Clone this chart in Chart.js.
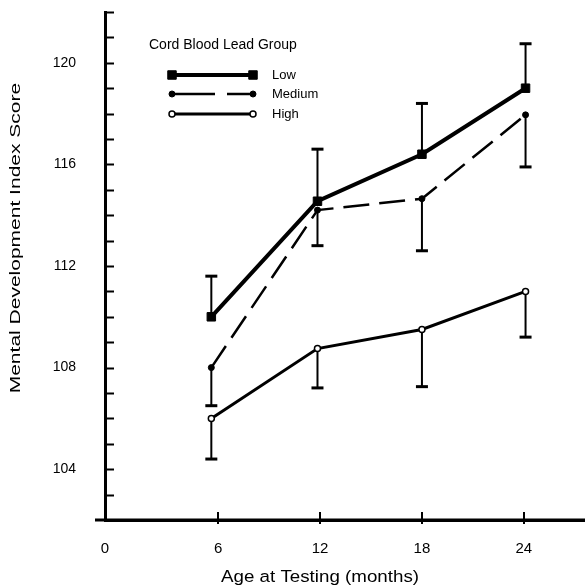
<!DOCTYPE html>
<html>
<head>
<meta charset="utf-8">
<script src="https://cdn.jsdelivr.net/npm/chart.js@4/dist/chart.umd.min.js"></script>
<style>
  html, body { margin: 0; padding: 0; background: #fff; }
  #wrap { width: 585px; height: 588px; }
</style>
</head>
<body>
<div id="wrap"><canvas id="mainChart" width="585" height="588"></canvas></div>
<script>
// Values
const ages = [5.6, 11.85, 18, 24.1];
const lowScores = [110.0, 114.55, 116.4, 119.0];
const mediumScores = [108.0, 114.2, 114.65, 117.95];
const highScores = [106.0, 108.75, 109.5, 111.0];
// error bar ends (low goes up, medium / high go down)
const lowUpper = [111.6, 116.6, 118.4, 120.75];
const mediumLower = [106.5, 112.8, 112.6, 115.9];
const highLower = [104.4, 107.2, 107.25, 109.2];
const xTickValues = [6, 12, 18, 24];
const groupLabels = ["Low", "Medium", "High"];

const FONT = "'Liberation Sans', Arial, Helvetica, sans-serif";
const X_MIN = -0.66;

function points(ys) {
    return ages.map((a, i) => ({ x: a, y: ys[i] }));
}

// error bars, axis ticks pointing inward, titles and legend
const extrasPlugin = {
    id: "extras",
    beforeDatasetsDraw(chart) {
        const ctx = chart.ctx;
        const xs = chart.scales.x, ys = chart.scales.y;
        ctx.save();
        ctx.strokeStyle = "#000";
        chart.data.datasets.forEach(ds => {
            ds.data.forEach((p, i) => {
                const px = xs.getPixelForValue(p.x);
                const y1 = ys.getPixelForValue(p.y);
                const y2 = ys.getPixelForValue(ds.errorTo[i]);
                ctx.lineWidth = 2;
                ctx.beginPath(); ctx.moveTo(px, y1); ctx.lineTo(px, y2); ctx.stroke();
                ctx.lineWidth = 3;
                ctx.beginPath(); ctx.moveTo(px - 6, y2); ctx.lineTo(px + 6, y2); ctx.stroke();
            });
        });
        ctx.restore();
    },
    afterDraw(chart) {
        const ctx = chart.ctx;
        const xs = chart.scales.x, ys = chart.scales.y;
        const area = chart.chartArea;
        ctx.save();
        ctx.strokeStyle = "#000";
        ctx.fillStyle = "#000";

        // y ticks (inside)
        ctx.lineWidth = 2;
        ys.ticks.forEach(t => {
            const py = Math.round(ys.getPixelForValue(t.value)) + 0.5;
            ctx.beginPath(); ctx.moveTo(area.left, py); ctx.lineTo(area.left + 9, py); ctx.stroke();
        });
        // x ticks, crossing the axis
        xs.ticks.forEach((t, i) => {
            if (i === 0) return;
            const px = Math.round(xs.getPixelForValue(t.value));
            ctx.beginPath(); ctx.moveTo(px, area.bottom - 8); ctx.lineTo(px, area.bottom + 4); ctx.stroke();
        });
        // x axis runs a little past the y axis on the left, and to the edge on the right
        ctx.lineWidth = 3;
        ctx.beginPath(); ctx.moveTo(area.left - 10, area.bottom); ctx.lineTo(chart.width, area.bottom); ctx.stroke();

        // axis titles (the scan is stretched, so stretch the text too)
        ctx.textAlign = "center";
        ctx.textBaseline = "middle";
        ctx.font = "15px " + FONT;
        ctx.save();
        ctx.translate(xs.getPixelForValue(12), 578);
        ctx.scale(1.25, 1.05);
        ctx.fillText("Age at Testing (months)", 0, 0);
        ctx.restore();

        ctx.font = "14px " + FONT;
        ctx.save();
        ctx.translate(16, ys.getPixelForValue(113.1));
        ctx.rotate(-Math.PI / 2);
        ctx.scale(1.5, 1);
        ctx.fillText("Mental Development Index Score", 0, 0);
        ctx.restore();

        // legend
        ctx.textAlign = "left";
        ctx.font = "14px " + FONT;
        ctx.fillText("Cord Blood Lead Group", 149, 45);
        ctx.font = "13px " + FONT;
        const rows = [75, 94, 114];
        chart.data.datasets.forEach((ds, i) => {
            const y = rows[i];
            ctx.lineWidth = ds.borderWidth;
            ctx.setLineDash(ds.legendDash || []);
            ctx.beginPath(); ctx.moveTo(172, y); ctx.lineTo(253, y); ctx.stroke();
            ctx.setLineDash([]);
            [172, 253].forEach(mx => drawMarker(ctx, ds, mx, y));
            ctx.fillStyle = "#000";
            ctx.fillText(ds.label, 272, y);
        });
        ctx.restore();
    }
};

function drawMarker(ctx, ds, x, y) {
    ctx.save();
    ctx.fillStyle = ds.pointBackgroundColor;
    ctx.strokeStyle = "#000";
    ctx.lineWidth = ds.pointBorderWidth;
    const r = ds.pointRadius;
    ctx.beginPath();
    if (ds.pointStyle === "rect") {
        const s = r * Math.SQRT1_2;
        ctx.rect(x - s, y - s, 2 * s, 2 * s);
    } else {
        ctx.arc(x, y, r, 0, Math.PI * 2);
    }
    ctx.fill();
    ctx.stroke();
    ctx.restore();
}

document.addEventListener("DOMContentLoaded", () => {
    const ctx = document.getElementById("mainChart").getContext("2d");

    new Chart(ctx, {
        type: "line",
        data: {
            datasets: [
                {
                    label: groupLabels[0],
                    data: points(lowScores),
                    errorTo: lowUpper,
                    borderColor: "#000",
                    borderWidth: 4,
                    pointStyle: "rect",
                    pointRadius: 6,
                    pointBackgroundColor: "#000",
                    pointBorderColor: "#000",
                    pointBorderWidth: 1
                },
                {
                    label: groupLabels[1],
                    data: points(mediumScores),
                    errorTo: mediumLower,
                    borderColor: "#000",
                    borderWidth: 2.5,
                    borderDash: [26, 10],
                    legendDash: [43, 12],
                    pointStyle: "circle",
                    pointRadius: 3,
                    pointBackgroundColor: "#000",
                    pointBorderColor: "#000",
                    pointBorderWidth: 1
                },
                {
                    label: groupLabels[2],
                    data: points(highScores),
                    errorTo: highLower,
                    borderColor: "#000",
                    borderWidth: 3,
                    pointStyle: "circle",
                    pointRadius: 3,
                    pointBackgroundColor: "#fff",
                    pointBorderColor: "#000",
                    pointBorderWidth: 1.5
                }
            ]
        },
        options: {
            responsive: false,
            animation: false,
            layout: { autoPadding: false, padding: { top: 12, right: 0, left: 0, bottom: 0 } },
            plugins: {
                legend: { display: false },
                tooltip: { enabled: false }
            },
            scales: {
                x: {
                    type: "linear",
                    min: X_MIN,
                    max: 27.6,
                    grid: { display: false },
                    border: { display: true, color: "#000", width: 3 },
                    afterBuildTicks: scale => {
                        scale.ticks = [X_MIN, ...xTickValues].map(v => ({ value: v }));
                    },
                    afterFit: scale => {
                        scale.height = 68;
                        scale.paddingLeft = 0;
                        scale.paddingRight = 0;
                    },
                    ticks: {
                        autoSkip: false,
                        maxRotation: 0,
                        padding: 12,
                        color: "#000",
                        font: { family: FONT, size: 15 },
                        callback: (value, index) => index === 0 ? "0" : value
                    }
                },
                y: {
                    min: 102,
                    max: 122,
                    grid: { display: false },
                    border: { display: true, color: "#000", width: 3 },
                    afterFit: scale => {
                        scale.width = 105;
                        scale.paddingTop = 0;
                        scale.paddingBottom = 0;
                    },
                    ticks: {
                        stepSize: 1,
                        autoSkip: false,
                        padding: 21,
                        color: "#000",
                        font: { family: FONT, size: 14 },
                        callback: value => value % 4 === 0 ? value : ""
                    }
                }
            }
        },
        plugins: [extrasPlugin]
    });
});
</script>
</body>
</html>
